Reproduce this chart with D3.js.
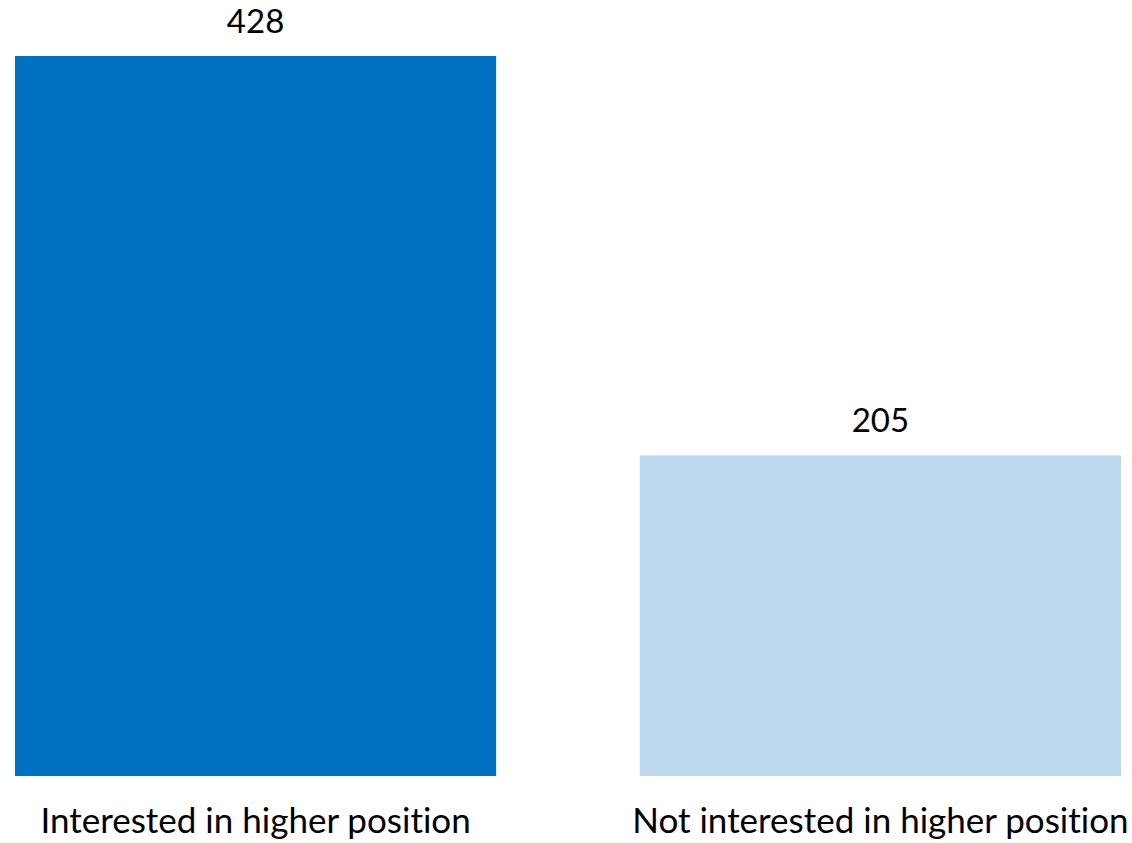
<!DOCTYPE html>
<html>
<head>
<meta charset="utf-8">
<script src="https://cdn.jsdelivr.net/npm/d3@7"></script>
<style>
  html, body { margin: 0; padding: 0; background: #fff; }
  svg { display: block; }
  text { font-family: Lato, "Open Sans", sans-serif; fill: #000; font-variant-ligatures: none; }
</style>
</head>
<body>
<svg id="chart" width="1132" height="843"></svg>
<script>
const categories = ["Interested in higher position", "Not interested in higher position"];
const values = [428, 205];
const colors = ["#0070C0", "#BDD7EE"];

const svg = d3.select("#chart");
const x = d3.scaleBand().domain(categories).range([15, 1121]).paddingInner(0.23).paddingOuter(0);
const y = d3.scaleLinear().domain([26, 428]).range([776, 56]);

svg.selectAll("rect.bar").data(categories).join("rect")
  .attr("class", "bar")
  .attr("x", d => x(d))
  .attr("width", x.bandwidth())
  .attr("y", (d, i) => y(values[i]))
  .attr("height", (d, i) => y(26) - y(values[i]))
  .attr("fill", (d, i) => colors[i]);

svg.selectAll("text.val").data(categories).join("text")
  .attr("class", "val")
  .attr("x", d => x(d) + x.bandwidth() / 2)
  .attr("y", (d, i) => y(values[i]) - 23)
  .attr("text-anchor", "middle")
  .style("font-size", "33px")
  .text((d, i) => values[i]);

const xAxis = d3.axisBottom(x).tickSize(0).tickPadding(0);
const gx = svg.append("g").attr("transform", "translate(0,776)").call(xAxis);
gx.select(".domain").remove();
gx.selectAll(".tick text")
  .attr("dy", null)
  .attr("y", 57)
  .style("font-size", "35px")
  .style("font-family", "Lato, 'Open Sans', sans-serif")
  .style("font-variant-ligatures", "none")
  .attr("fill", "#000");
</script>
</body>
</html>
